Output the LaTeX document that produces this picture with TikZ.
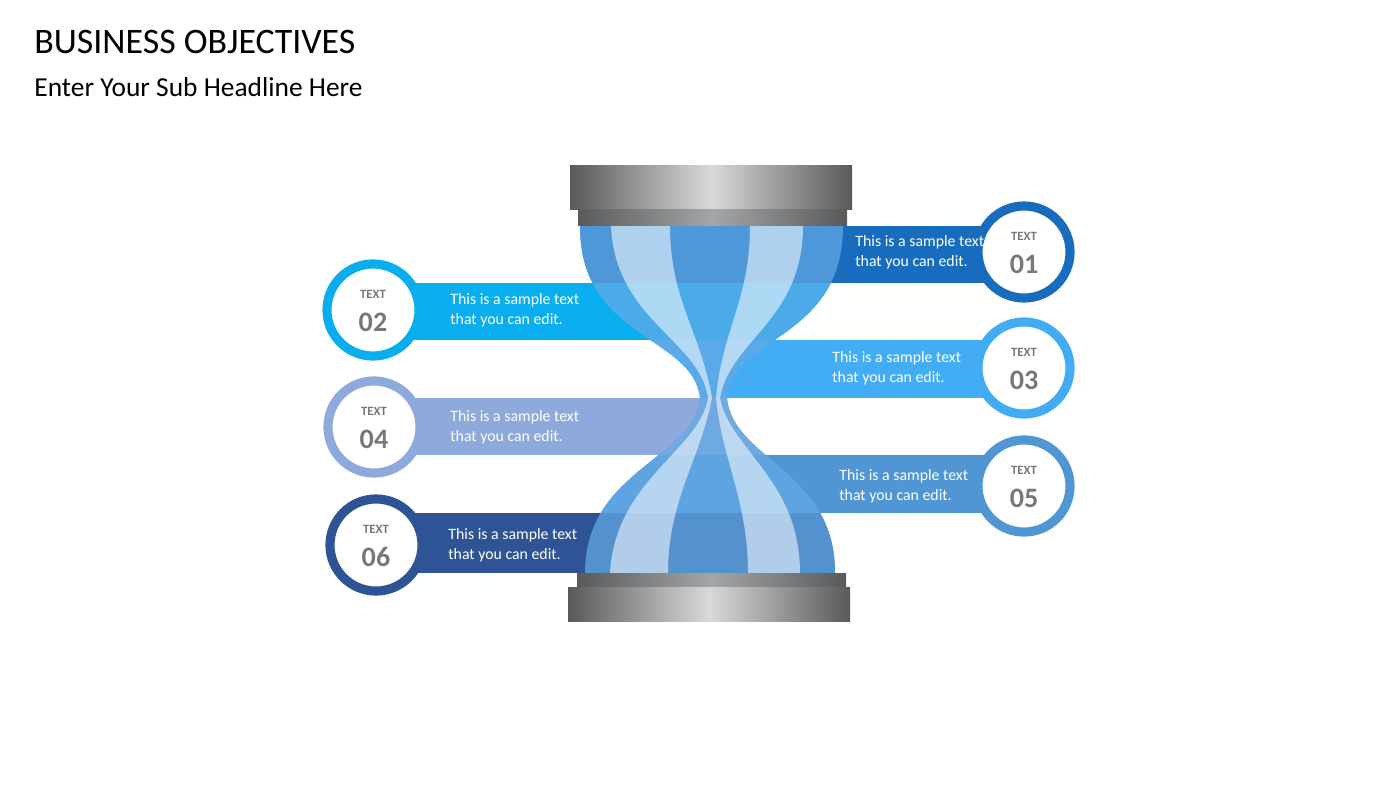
\documentclass[tikz,border=0pt]{standalone}
\usepackage{fontspec}
\setmainfont{Carlito}
\definecolor{cA}{RGB}{23,108,190}
\definecolor{cB}{RGB}{10,174,238}
\definecolor{cC}{RGB}{66,172,245}
\definecolor{cD}{RGB}{142,169,219}
\definecolor{cE}{RGB}{80,150,212}
\definecolor{cF}{RGB}{46,84,150}
\definecolor{glassblue}{RGB}{100,170,230}
\definecolor{numgray}{RGB}{120,120,120}

\tikzset{
  banner/.style={fill=#1,draw=none},
  ring/.style={circle,draw=#1,line width=2.6pt,fill=white,minimum size=0.92cm,inner sep=0pt},
  bantext/.style={text=white,font=\fontsize{4.5}{5.6}\selectfont,align=left,anchor=west},
  capbar/.style={left color=black!65,right color=black!65,middle color=black!15},
}
\newcommand{\glasspath}{(580,226) .. controls (580,340) and (693,335) .. (700,398)
    .. controls (693,460) and (585,470) .. (585,573) -- (835,573)
    .. controls (835,470) and (733,460) .. (727,398)
    .. controls (733,335) and (843,340) .. (843,226) -- cycle}

\begin{document}
\begin{tikzpicture}[x=0.01cm,y=-0.01cm]
  \useasboundingbox (0,0) rectangle (1400,788);
  \node[anchor=west,font=\fontsize{10.2}{12}\selectfont] (title) at (22,42) {BUSINESS OBJECTIVES};
  \node[anchor=west,font=\fontsize{7.8}{9}\selectfont] (sub) at (22,87) {Enter Your Sub Headline Here};
  % banners
  \fill[banner=cA] (713,226) rectangle (1024,283);
  \fill[banner=cB] (373,283) rectangle (713,340);
  \fill[banner=cC] (713,340) rectangle (1024,398);
  \fill[banner=cD] (374,398) rectangle (713,455);
  \fill[banner=cE] (713,455) rectangle (1024,513);
  \fill[banner=cF] (376,513) rectangle (713,573);
  \begin{scope}
    \clip \glasspath;
    \fill[banner=cA] (570,226) rectangle (713,283);
    \fill[banner=cB] (713,283) rectangle (860,340);
    \fill[banner=cC] (570,340) rectangle (713,398);
    \fill[banner=cD] (713,398) rectangle (860,455);
    \fill[banner=cE] (570,455) rectangle (713,513);
    \fill[banner=cF] (713,513) rectangle (860,573);
  \end{scope}
  % glass
  \fill[glassblue,opacity=0.72] \glasspath;
  \fill[white,opacity=0.55] (611,226) .. controls (615,320) and (700,340) .. (708,398)
    -- (712,398) .. controls (700,330) and (670,300) .. (670,226) -- cycle;
  \fill[white,opacity=0.55] (750,226) .. controls (750,300) and (722,330) .. (716,398)
    -- (720,398) .. controls (730,340) and (803,320) .. (803,226) -- cycle;
  \fill[white,opacity=0.55] (610,573) .. controls (615,480) and (700,450) .. (708,398)
    -- (712,398) .. controls (700,460) and (668,500) .. (668,573) -- cycle;
  \fill[white,opacity=0.55] (748,573) .. controls (748,500) and (722,460) .. (716,398)
    -- (720,398) .. controls (730,450) and (800,480) .. (800,573) -- cycle;
  % caps
  \shade[capbar] (570,166) rectangle (852,210);
  \shade[capbar,middle color=black!35] (578,210) rectangle (847,226);
  \shade[capbar,middle color=black!35] (577,573) rectangle (846,587);
  \shade[capbar] (568,587) rectangle (850,621);
  % circles and texts
  \foreach \n/\x/\y/\c/\tx in {01/1024/252/cA/843, 02/373/310/cB/438, 03/1024/368/cC/820,
                                04/374/427/cD/438, 05/1024/486/cE/827, 06/376/545/cF/436}{
    \node[ring=\c] (c\n) at (\x,\y) {};
    \node[font=\bfseries\fontsize{3.6}{4}\selectfont,text=numgray] (t\n) at (\x,\y-16) {TEXT};
    \node[font=\bfseries\fontsize{8}{9}\selectfont,text=numgray] (n\n) at (\x,\y+12) {\n};
    \node[bantext] (b\n) at (\tx,\y) {This is a sample text\\that you can edit.};
  }
\end{tikzpicture}
\end{document}
